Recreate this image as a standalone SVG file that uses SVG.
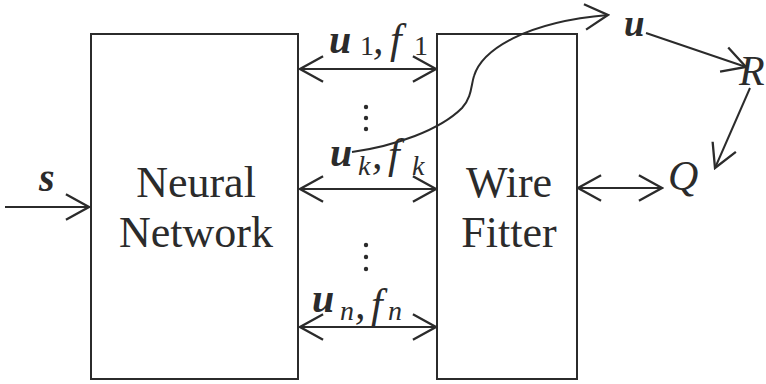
<svg xmlns="http://www.w3.org/2000/svg" width="766" height="384" viewBox="0 0 766 384">
<defs>
<style>
.box{fill:none;stroke:#2b2b2b;stroke-width:2}
.ln{fill:none;stroke:#2b2b2b;stroke-width:2}
.t{font-family:"Liberation Serif","Times New Roman",serif;fill:#2b2b2b}
.big{font-size:44px}
.v{font-size:40px;font-weight:bold;font-style:italic}
.it{font-size:42px;font-style:italic}
.sub{font-size:28px}
.subi{font-size:28px;font-style:italic}
.dot{fill:#2b2b2b}
</style>
<marker id="ae" markerUnits="userSpaceOnUse" markerWidth="30" markerHeight="30" viewBox="-24 -13 26 26" refX="0" refY="0" orient="auto-start-reverse">
<path d="M-20,-11 L0,0 L-20,11" fill="none" stroke="#2b2b2b" stroke-width="2"/>
</marker>
</defs>
<rect width="766" height="384" fill="#ffffff"/>
<g id="neural-network">
<rect class="box" x="91" y="34" width="207" height="345"/>
<text class="t big" x="196" y="197" text-anchor="middle">Neural</text>
<text class="t big" x="196" y="247" text-anchor="middle">Network</text>
</g>
<g id="wire-fitter">
<rect class="box" x="437" y="34" width="140" height="345"/>
<text class="t big" x="509" y="197" text-anchor="middle">Wire</text>
<text class="t big" x="509" y="247" text-anchor="middle">Fitter</text>
</g>
<g id="s-label"><text class="t v" x="39" y="191">s</text></g>
<g id="u-node"><text class="t v" x="624" y="36" style="font-size:37px">u</text></g>
<g id="R-node"><text class="t it" x="739" y="85">R</text></g>
<g id="Q-node"><text class="t it" x="668" y="190">Q</text></g>
<g id="labels">
<text class="t v" x="329" y="53">u</text>
<text class="t sub" x="360" y="55">1</text>
<text class="t it" x="373" y="53">,</text>
<text class="t it" x="390" y="53">f</text>
<text class="t sub" x="414" y="55">1</text>
<text class="t v" x="330" y="166">u</text>
<text class="t subi" x="358" y="175">k</text>
<text class="t it" x="372" y="168">,</text>
<text class="t it" x="388" y="168">f</text>
<text class="t subi" x="412" y="175">k</text>
<text class="t v" x="312" y="312">u</text>
<text class="t subi" x="340" y="320">n</text>
<text class="t it" x="355" y="318">,</text>
<text class="t it" x="371" y="318">f</text>
<text class="t subi" x="388" y="320">n</text>
<circle class="dot" cx="366" cy="107" r="2.2"/>
<circle class="dot" cx="366" cy="118" r="2.2"/>
<circle class="dot" cx="366" cy="129" r="2.2"/>
<circle class="dot" cx="366" cy="245" r="2.2"/>
<circle class="dot" cx="366" cy="257" r="2.2"/>
<circle class="dot" cx="366" cy="269" r="2.2"/>
</g>
<g id="connectors">
<line class="ln" x1="5" y1="207" x2="89" y2="207" marker-end="url(#ae)"/>
<line class="ln" x1="300" y1="69" x2="436" y2="69" marker-start="url(#ae)" marker-end="url(#ae)"/>
<line class="ln" x1="300" y1="189" x2="436" y2="189" marker-start="url(#ae)" marker-end="url(#ae)"/>
<line class="ln" x1="300" y1="327" x2="436" y2="327" marker-start="url(#ae)" marker-end="url(#ae)"/>
<line class="ln" x1="578" y1="188" x2="662" y2="188" marker-start="url(#ae)" marker-end="url(#ae)"/>
<path class="ln" d="M352,152 C395,146 440,130 462,108 C472,97 471,85 474,76 C482,50 525,22 608,15" marker-end="url(#ae)"/>
<line class="ln" x1="646" y1="33" x2="746" y2="67" marker-end="url(#ae)"/>
<line class="ln" x1="750" y1="88" x2="715" y2="168" marker-end="url(#ae)"/>
</g>
</svg>
